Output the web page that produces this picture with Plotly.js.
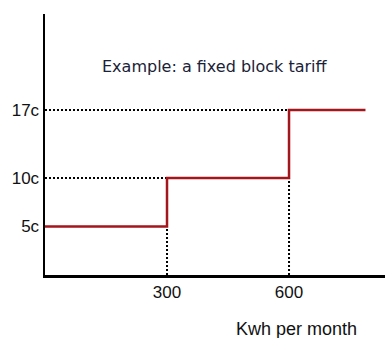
<!DOCTYPE html>
<html><head><meta charset="utf-8">
<script src="https://cdn.plot.ly/plotly-3.0.1.min.js"></script>
<style>html,body{margin:0;padding:0;background:#fff;}#c{width:385px;height:338px;}</style>
</head><body><div id="c"></div>
<script>
const breakpoints = [0, 300, 600, 788];
const rates = [5, 10, 17];
const rateLabels = ['5c', '10c', '17c'];
const xTickVals = [300, 600];
const xTickText = ['300', '600'];

const stepX = breakpoints.slice();
const stepY = rates.concat([rates[rates.length - 1]]);

const dotted = {color: '#000', width: 2, dash: '2px,2px'};
const traces = [
  {x: [0, breakpoints[1]], y: [rates[1], rates[1]], mode: 'lines', line: dotted, hoverinfo: 'skip'},
  {x: [0, breakpoints[2]], y: [rates[2], rates[2]], mode: 'lines', line: dotted, hoverinfo: 'skip'},
  {x: [breakpoints[1], breakpoints[1]], y: [0, rates[0]], mode: 'lines', line: dotted, hoverinfo: 'skip'},
  {x: [breakpoints[2], breakpoints[2]], y: [0, rates[1]], mode: 'lines', line: dotted, hoverinfo: 'skip'},
  {x: stepX, y: stepY, mode: 'lines', line: {color: '#a3161c', width: 2.5, shape: 'hv'}}
];

const layout = {
  width: 385, height: 338,
  margin: {l: 45, r: 0, t: 14, b: 63},
  showlegend: false,
  paper_bgcolor: '#fff', plot_bgcolor: '#fff',
  font: {family: 'Liberation Sans, Arial, sans-serif', color: '#111', size: 17},
  xaxis: {range: [0, 836], showgrid: false, zeroline: false, showline: true, linecolor: '#000', linewidth: 2.5,
    tickmode: 'array', tickvals: xTickVals, ticktext: xTickText, ticks: '', tickfont: {size: 17}},
  yaxis: {range: [0, 26.9], showgrid: false, zeroline: false, showline: true, linecolor: '#000', linewidth: 2.5,
    tickmode: 'array', tickvals: rates, ticktext: rateLabels, ticks: '', tickfont: {size: 17}},
  annotations: [
    {text: 'Example: a fixed block tariff', xref: 'paper', yref: 'paper', x: 0.5, y: 0.80, showarrow: false,
      xanchor: 'center', yanchor: 'middle', font: {family: 'DejaVu Sans, Verdana, sans-serif', size: 16, color: '#1a2238'}},
    {text: 'Kwh per month', xref: 'paper', yref: 'paper', x: 0.74, y: -0.205, showarrow: false,
      xanchor: 'center', yanchor: 'middle', font: {size: 18, color: '#111'}}
  ]
};
Plotly.newPlot('c', traces, layout, {staticPlot: true});
</script></body></html>
